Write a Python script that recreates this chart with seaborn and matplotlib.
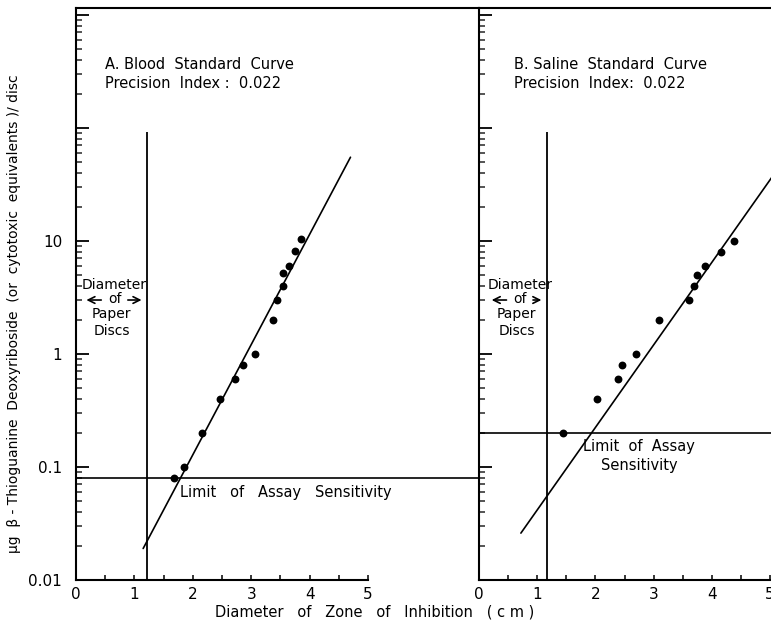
import numpy as np
import pandas as pd
import matplotlib
matplotlib.use("Agg")
import matplotlib.pyplot as plt
from matplotlib.ticker import FixedLocator, FixedFormatter, LogLocator, NullFormatter
import seaborn as sns

# panel A - blood standard curve
blood_diam = [1.68, 1.85, 2.16, 2.47, 2.73, 2.86, 3.06, 3.38, 3.44, 3.54, 3.55, 3.65, 3.75, 3.86]
blood_dose = [0.08, 0.1, 0.2, 0.4, 0.6, 0.8, 1.0, 2.0, 3.0, 4.0, 5.2, 6.0, 8.2, 10.5]
blood_fit_x = [1.15, 4.70]
blood_fit_y = [0.019, 55]
blood_disc = 1.22
blood_limit = 0.08

# panel B - saline standard curve
saline_diam = [1.44, 2.03, 2.38, 2.46, 2.69, 3.10, 3.60, 3.69, 3.75, 3.89, 4.16, 4.38]
saline_dose = [0.2, 0.4, 0.6, 0.8, 1.0, 2.0, 3.0, 4.0, 5.0, 6.0, 8.0, 10.0]
saline_fit_x = [0.72, 5.10]
saline_fit_y = [0.026, 41]
saline_disc = 1.17
saline_limit = 0.2

disc_top = 92

ytick_vals = [0.01, 0.1, 1, 10, 100, 1000]
ytick_labels = ["0.01", "0.1", "1", "10", "", ""]
xtick_vals = [0, 1, 2, 3, 4, 5]
xtick_minor = [0.5, 1.5, 2.5, 3.5, 4.5]

sns.set_theme(style="ticks")
plt.rcParams["font.family"] = ["DejaVu Sans"]
plt.rcParams["axes.linewidth"] = 1.5
plt.rcParams["text.color"] = "black"

fig = plt.figure(figsize=(7.71, 6.27), dpi=100)
axA = fig.add_axes([76 / 771, 47 / 627, 403 / 771, 572 / 627])
axB = fig.add_axes([479 / 771, 47 / 627, 292 / 771, 572 / 627])

dfA = pd.DataFrame({"diam": blood_diam, "dose": blood_dose})
dfB = pd.DataFrame({"diam": saline_diam, "dose": saline_dose})


def style_axis(ax, xmax, show_ylabels):
    ax.set_yscale("log")
    ax.set_ylim(0.01, 1150)
    ax.set_xlim(0, xmax)
    ax.yaxis.set_major_locator(FixedLocator(ytick_vals))
    if show_ylabels:
        ax.yaxis.set_major_formatter(FixedFormatter(ytick_labels))
    else:
        ax.yaxis.set_major_formatter(NullFormatter())
    ax.yaxis.set_minor_locator(LogLocator(base=10, subs=np.arange(2, 10)))
    ax.yaxis.set_minor_formatter(NullFormatter())
    ax.xaxis.set_major_locator(FixedLocator(xtick_vals))
    ax.xaxis.set_minor_locator(FixedLocator(xtick_minor))
    ax.tick_params(axis="y", which="major", direction="in", length=9, width=1.3,
                   pad=10, labelsize=11, colors="black")
    ax.tick_params(axis="y", which="minor", direction="in", length=4.5, width=1.1)
    ax.tick_params(axis="x", which="both", direction="in", length=3.5, width=1.1,
                   pad=5, labelsize=11, colors="black")
    ax.spines["right"].set_visible(False)
    for s in ax.spines.values():
        s.set_color("black")
    ax.set_xlabel("")
    ax.set_ylabel("")
    ax.set_facecolor("white")


# ---- panel A
sns.scatterplot(data=dfA, x="diam", y="dose", ax=axA, color="black", s=32,
                edgecolor="black", linewidth=0, zorder=3)
axA.plot(blood_fit_x, blood_fit_y, color="black", lw=1.2)
axA.axhline(blood_limit, color="black", lw=1.2)
axA.vlines(blood_disc, 0.01, disc_top, color="black", lw=1.3)
style_axis(axA, 403 / 58.4, True)
axA.spines["bottom"].set_bounds(0, 5)

axA.text(0.50, 300, "A. Blood  Standard  Curve\nPrecision  Index :  0.022",
         fontsize=10.5, ha="left", va="center", linespacing=1.3)
axA.text(1.78, 0.06, "Limit   of   Assay   Sensitivity", fontsize=10.5,
         ha="left", va="center")

# ---- panel B
sns.scatterplot(data=dfB, x="diam", y="dose", ax=axB, color="black", s=32,
                edgecolor="black", linewidth=0, zorder=3)
axB.plot(saline_fit_x, saline_fit_y, color="black", lw=1.2)
axB.axhline(saline_limit, color="black", lw=1.2)
axB.vlines(saline_disc, 0.01, disc_top, color="black", lw=1.3)
style_axis(axB, 292 / 58.2, False)

axB.text(0.60, 300, "B. Saline  Standard  Curve\nPrecision  Index:  0.022",
         fontsize=10.5, ha="left", va="center", linespacing=1.3)
axB.text(2.75, 0.125, "Limit  of  Assay\nSensitivity", fontsize=10.5,
         ha="center", va="center", linespacing=1.3)

# disc annotations
for ax, cx, x0, x1 in [(axA, 0.66, 0.13, 1.17), (axB, 0.70, 0.17, 1.12)]:
    ax.text(cx, 4.1, "Diameter", fontsize=10, ha="center", va="center")
    ax.text(cx, 3.05, "of", fontsize=10, ha="center", va="center")
    ax.text(cx - 0.05, 2.25, "Paper", fontsize=10, ha="center", va="center")
    ax.text(cx - 0.05, 1.6, "Discs", fontsize=10, ha="center", va="center")
    ax.annotate("", xy=(x0, 3.0), xytext=(cx - 0.18, 3.0),
                arrowprops=dict(arrowstyle="->", color="black", lw=1.2))
    ax.annotate("", xy=(x1, 3.0), xytext=(cx + 0.18, 3.0),
                arrowprops=dict(arrowstyle="->", color="black", lw=1.2))

fig.text(14 / 771, 0.50,
         "\u03bcg  \u03b2 - Thioguanine  Deoxyriboside  (or  cytotoxic  equivalents )/ disc",
         rotation=90, fontsize=10, ha="center", va="center")
fig.text(0.486, 1 - 612 / 627, "Diameter   of   Zone   of   Inhibition   ( c m )",
         fontsize=10.5, ha="center", va="center")

fig.savefig("out.png", dpi=100, facecolor="white")
